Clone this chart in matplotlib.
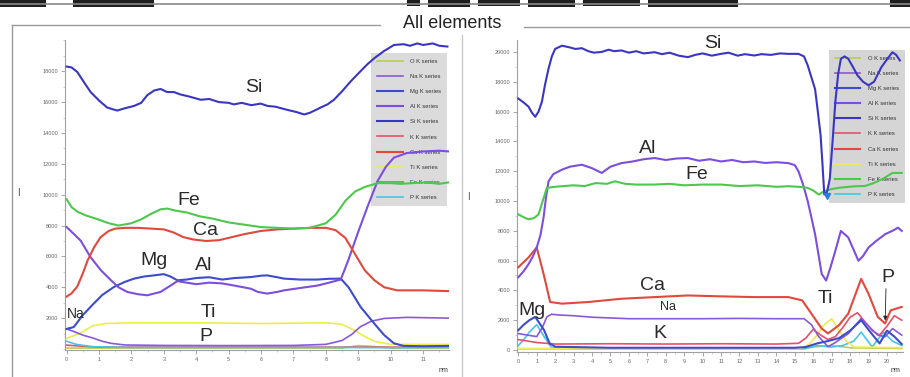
import matplotlib
matplotlib.use("Agg")
import matplotlib.pyplot as plt
from matplotlib.lines import Line2D
from matplotlib.patches import Rectangle
from matplotlib.ticker import MultipleLocator

plt.rcParams['font.family'] = ['Liberation Sans', 'DejaVu Sans']

# ---------------- legend / series ----------------
series_keys = ["O", "Na", "Mg", "Al", "Si", "K", "Ca", "Ti", "Fe", "P"]
series_names = ["O K series", "Na K series", "Mg K series", "Al K series", "Si K series",
                "K K series", "Ca K series", "Ti K series", "Fe K series", "P K series"]
series_colors = ["#b8d048", "#8a58dc", "#3c4ccc", "#7c4ee0", "#3a36c4",
                 "#e8506a", "#e2483c", "#ecec50", "#4cc84c", "#48c4e8"]

# ---------------- left panel data ----------------
left_si_x = [0, 0.15, 0.33, 0.5, 0.74, 1.0, 1.25, 1.4, 1.56, 1.8, 2.08, 2.3, 2.49, 2.7, 2.9, 3.1, 3.31,
             3.5, 3.8, 4.14, 4.4, 4.7, 5.0, 5.16, 5.4, 5.7, 5.99, 6.2, 6.45, 6.71, 6.9, 7.1, 7.33, 7.5,
             7.7, 7.84, 8.05, 8.25, 8.5, 8.77, 9.0, 9.28, 9.5, 9.79, 10.1, 10.4, 10.6, 10.82, 11.0,
             11.3, 11.5, 11.75]
left_si_y = [18300, 18250, 17950, 17400, 16650, 16100, 15650, 15550, 15450, 15600, 15750, 15950,
             16450, 16750, 16850, 16650, 16650, 16500, 16350, 16150, 16200, 16000, 15950, 15850,
             15950, 15800, 15900, 15750, 15700, 15550, 15450, 15350, 15200, 15300, 15500, 15650,
             15850, 16150, 16700, 17350, 17850, 18450, 18850, 19300, 19700, 19750, 19650, 19800,
             19700, 19800, 19650, 19600]

left_fe_x = [0, 0.15, 0.33, 0.6, 0.9, 1.3, 1.6, 2.0, 2.3, 2.6, 2.9, 3.1, 3.4, 3.7, 4.1, 4.5, 5.0,
             5.5, 6.0, 6.5, 7.0, 7.5, 8.0, 8.3, 8.6, 8.9, 9.2, 9.6, 10.0, 10.3, 10.7, 11.1, 11.5, 11.8]
left_fe_y = [9700, 9200, 8900, 8650, 8450, 8150, 8000, 8150, 8400, 8750, 9050, 9100, 8950, 8850,
             8600, 8450, 8200, 8050, 7900, 7850, 7800, 7850, 8150, 8700, 9600, 10200, 10500,
             10750, 10750, 10700, 10750, 10800, 10700, 10800]

left_ca_x = [0, 0.15, 0.33, 0.5, 0.65, 0.85, 1.05, 1.3, 1.5, 1.8, 2.2, 2.6, 3.0, 3.3, 3.6, 3.9,
             4.3, 4.7, 5.1, 5.5, 6.0, 6.5, 7.0, 7.5, 8.0, 8.3, 8.6, 8.9, 9.2, 9.5, 9.8, 10.2, 11.0, 11.8]
left_ca_y = [3400, 3600, 4050, 4900, 5750, 6600, 7250, 7650, 7800, 7850, 7850, 7800, 7750, 7550,
             7250, 7100, 7000, 7050, 7250, 7450, 7650, 7750, 7800, 7850, 7850, 7700, 7200, 6150,
             5100, 4450, 4000, 3800, 3800, 3750]

left_mg_x = [0, 0.22, 0.5, 0.84, 1.1, 1.46, 1.8, 2.08, 2.4, 2.69, 3.0, 3.2, 3.42, 3.7, 4.0, 4.4,
             4.8, 5.2, 5.68, 6.0, 6.19, 6.5, 6.71, 7.2, 7.74, 8.1, 8.46, 8.7, 9.07, 9.49, 9.8, 10.1,
             10.4, 11.0, 11.8]
left_mg_y = [1300, 1420, 2200, 2950, 3500, 4020, 4350, 4560, 4700, 4770, 4850, 4700, 4450, 4500,
             4600, 4650, 4500, 4600, 4660, 4750, 4770, 4650, 4560, 4500, 4500, 4550, 4560, 4000,
             2730, 1660, 900, 370, 200, 180, 200]

left_al_x = [0, 0.2, 0.43, 0.74, 1.05, 1.36, 1.6, 1.87, 2.2, 2.49, 2.9, 3.2, 3.42, 3.7, 4.0, 4.4,
             4.8, 5.2, 5.68, 5.9, 6.19, 6.5, 6.71, 7.2, 7.74, 8.1, 8.46, 8.7, 9.0, 9.3, 9.6, 9.85,
             10.1, 10.5, 11.0, 11.5, 11.8]
left_al_y = [7900, 7500, 7030, 5950, 5120, 4470, 4000, 3700, 3550, 3480, 3700, 4100, 4400, 4300,
             4200, 4300, 4250, 4100, 3910, 3700, 3590, 3700, 3800, 3950, 4110, 4300, 4500, 5800,
             7600, 9300, 10900, 11800, 12400, 12700, 12800, 12850, 12800]

left_na_x = [0, 0.2, 0.5, 0.84, 1.1, 1.36, 1.8, 3.0, 5.0, 7.0, 8.0, 8.5, 8.8, 9.07, 9.4, 9.8,
             10.5, 11.8]
left_na_y = [1300, 1150, 900, 690, 500, 370, 260, 230, 220, 230, 300, 550, 950, 1450, 1800, 1980,
             2050, 2000]

left_ti_x = [0, 0.4, 0.8, 1.2, 2.0, 4.0, 6.0, 8.0, 8.5, 8.9, 9.2, 9.5, 10.0, 11.8]
left_ti_y = [700, 1000, 1500, 1650, 1700, 1700, 1650, 1700, 1600, 1200, 800, 500, 300, 300]

left_p_x = [0, 0.3, 0.8, 2.0, 5.0, 8.0, 10.0, 11.8]
left_p_y = [500, 300, 150, 100, 100, 100, 80, 100]

left_o_x = [0, 8.5, 9.0, 9.5, 10.0, 11.8]
left_o_y = [60, 60, 220, 160, 60, 60]

left_k_x = [0, 0.5, 1.0, 11.8]
left_k_y = [250, 180, 120, 120]

# ---------------- right panel data ----------------
right_si_x = [0, 0.3, 0.56, 0.75, 0.92, 1.1, 1.28, 1.45, 1.64, 1.82, 2.0, 2.37, 2.8, 3.1, 3.45,
              3.8, 4.1, 4.53, 4.9, 5.2, 5.6, 6.0, 6.4, 6.8, 7.4, 7.8, 8.2, 8.7, 9.2, 9.6, 10.0,
              10.5, 11.0, 11.4, 11.9, 12.3, 12.8, 13.2, 13.7, 14.2, 14.65, 15.2, 15.5, 15.7, 15.9,
              16.1, 16.25, 16.4, 16.5, 16.6, 16.75, 16.9, 17.05, 17.2, 17.35, 17.5, 17.7, 17.9,
              18.15, 18.4, 18.7, 19.0, 19.3, 19.7, 20.0, 20.3, 20.5, 20.7]
right_si_y = [16870, 16600, 16320, 15900, 15650, 16000, 16650, 17800, 18870, 19700, 20200, 20420,
              20300, 20200, 20250, 20050, 19950, 20000, 20150, 20050, 20100, 19950, 20050, 19900,
              19980, 19850, 19950, 19750, 19650, 19800, 19900, 19750, 19870, 19950, 19750, 19850,
              19760, 19850, 19800, 19900, 19870, 19870, 19700, 19100, 18300, 17500, 16000, 14400,
              12500, 10430, 10600, 11500, 14000, 16650, 18500, 19540, 19700, 19540, 19000, 18430,
              18000, 17760, 18000, 18980, 19500, 19980, 19800, 19430]

right_al_x = [0, 0.3, 0.56, 0.8, 1.0, 1.2, 1.37, 1.5, 1.64, 1.9, 2.37, 2.8, 3.45, 4.0, 4.53, 5.0,
              5.6, 6.2, 6.8, 7.4, 8.0, 8.6, 9.2, 9.8, 10.4, 11.0, 11.6, 12.2, 12.8, 13.4, 14.0,
              14.65, 15.0, 15.2, 15.45, 15.7, 15.9, 16.1, 16.3, 16.46, 16.7, 16.95, 17.2, 17.5,
              17.9, 18.2, 18.45, 18.7, 19.0, 19.4, 19.9, 20.3, 20.6, 20.8]
right_al_y = [4880, 5300, 5770, 6300, 6880, 7700, 8880, 10200, 11320, 11800, 12100, 12300, 12430,
              12200, 11880, 12300, 12540, 12650, 12800, 12880, 12750, 12850, 12880, 12700, 12800,
              12650, 12750, 12600, 12650, 12550, 12600, 12540, 12400, 11990, 11100, 9990, 8900,
              7770, 6300, 5100, 4660, 5600, 6660, 7990, 7550, 6700, 5990, 6300, 6880, 7300, 7770,
              8000, 8210, 7990]

right_fe_x = [0, 0.3, 0.56, 0.85, 1.1, 1.3, 1.55, 2.0, 2.37, 3.0, 3.6, 4.2, 4.8, 5.25, 5.8, 6.4,
              7.4, 8.2, 9.0, 10.0, 11.0, 12.0, 13.0, 14.0, 14.65, 15.2, 15.7, 16.0, 16.3, 16.6,
              17.0, 17.5, 18.3, 18.8, 19.3, 19.8, 20.3, 20.8]
right_fe_y = [9100, 8900, 8770, 8850, 9100, 9900, 10880, 10950, 10990, 11050, 11000, 11200, 11150,
              11320, 11150, 11100, 11100, 11150, 11050, 11100, 11100, 11000, 11050, 10950, 10990,
              10950, 10880, 10700, 10430, 10660, 10800, 10900, 10990, 11000, 11210, 11500, 11880,
              11880]

right_ca_x = [0, 0.56, 1.0, 1.37, 1.73, 2.37, 3.8, 5.6, 7.4, 9.2, 11.0, 12.8, 14.65, 15.4, 15.9,
              16.46, 16.8, 17.4, 17.9, 18.6, 19.0, 19.5, 19.9, 20.2, 20.8]
right_ca_y = [5550, 6220, 6880, 5110, 3220, 3110, 3220, 3440, 3550, 3660, 3600, 3550, 3550, 3330,
              2440, 1440, 1110, 1670, 2440, 4770, 3770, 2220, 1780, 2660, 2890]

right_k_x = [0, 0.5, 1.0, 1.5, 2.0, 5.0, 8.0, 11.0, 14.0, 15.2, 15.6, 16.0, 16.4, 16.8, 17.2,
             17.6, 18.0, 18.4, 18.8, 19.2, 19.6, 20.0, 20.4, 20.8]
right_k_y = [700, 600, 500, 450, 400, 420, 400, 420, 400, 450, 800, 1400, 1000, 700, 900, 1500,
             2200, 2500, 1900, 1300, 1000, 1600, 2300, 2000]

right_na_x = [0, 0.5, 1.0, 1.3, 1.55, 1.8, 2.2, 3.0, 4.0, 5.0, 6.0, 8.0, 10.0, 12.0, 14.0, 15.5,
              15.9, 16.3, 16.8, 17.2, 17.9, 18.6, 19.0, 19.5, 19.9, 20.3, 20.8]
right_na_y = [1100, 1000, 900, 1500, 2220, 2400, 2350, 2300, 2200, 2150, 2100, 2100, 2100, 2120,
              2100, 2100, 1700, 890, 220, 500, 1100, 2110, 1600, 1000, 890, 1440, 1000]

right_mg_x = [0, 0.3, 0.6, 0.92, 1.2, 1.4, 1.7, 2.0, 5.0, 10.0, 15.0, 15.6, 16.2, 16.8, 17.4,
              18.0, 18.6, 19.1, 19.6, 20.0, 20.4, 20.8]
right_mg_y = [1330, 1700, 2000, 2220, 1700, 1330, 440, 220, 150, 150, 150, 200, 440, 600, 800,
              1300, 2000, 1200, 440, 1300, 900, 400]

right_ti_x = [0, 15.3, 15.8, 16.2, 16.6, 17.0, 17.4, 17.8, 18.2, 20.8]
right_ti_y = [100, 100, 400, 1000, 1700, 2100, 1300, 600, 200, 150]

right_p_x = [0, 0.3, 0.6, 1.0, 1.4, 1.8, 3.0, 15.6, 16.2, 17.0, 17.6, 18.2, 18.6, 19.2, 19.8,
             20.3, 20.8]
right_p_y = [300, 700, 1200, 1700, 900, 150, 100, 100, 300, 200, 300, 600, 1200, 200, 1200, 600,
             300]

right_o_x = [0, 15.5, 16.0, 17.0, 18.0, 20.8]
right_o_y = [80, 80, 200, 300, 150, 100]

# element text labels: (name, x, y, fontsize)
left_labels = [("Si", 5.77, 16950, 14), ("Fe", 3.77, 9650, 14), ("Ca", 4.29, 7650, 14),
               ("Mg", 2.69, 5750, 14), ("Al", 4.23, 5420, 14), ("Na", 0.28, 2300, 10),
               ("Ti", 4.38, 2390, 14), ("P", 4.29, 780, 14)]
right_labels = [("Si", 10.57, 20550, 14), ("Al", 6.99, 13550, 14), ("Fe", 9.7, 11800, 14),
                ("Ca", 7.26, 4350, 14), ("Na", 8.13, 2870, 9), ("Mg", 0.76, 2680, 14),
                ("K", 7.7, 1130, 14), ("Ti", 16.64, 3470, 14), ("P", 20.05, 4870, 14)]

left_yticks = [2000, 4000, 6000, 8000, 10000, 12000, 14000, 16000, 18000]
right_yticks = [0, 2000, 4000, 6000, 8000, 10000, 12000, 14000, 16000, 18000, 20000]
left_xticks = list(range(0, 12))
right_xticks = list(range(0, 21))

left_series = {
    "O": (left_o_x, left_o_y), "K": (left_k_x, left_k_y), "P": (left_p_x, left_p_y),
    "Ti": (left_ti_x, left_ti_y), "Na": (left_na_x, left_na_y), "Mg": (left_mg_x, left_mg_y),
    "Al": (left_al_x, left_al_y), "Ca": (left_ca_x, left_ca_y), "Fe": (left_fe_x, left_fe_y),
    "Si": (left_si_x, left_si_y),
}
right_series = {
    "O": (right_o_x, right_o_y), "P": (right_p_x, right_p_y), "Ti": (right_ti_x, right_ti_y),
    "K": (right_k_x, right_k_y), "Na": (right_na_x, right_na_y), "Mg": (right_mg_x, right_mg_y),
    "Ca": (right_ca_x, right_ca_y), "Al": (right_al_x, right_al_y), "Fe": (right_fe_x, right_fe_y),
    "Si": (right_si_x, right_si_y),
}

W, H = 910, 377
fig = plt.figure(figsize=(W / 100, H / 100), dpi=100)


def fx(px):
    return px / W


def fy(py):
    return 1 - py / H


def style_axes(ax, xticks, yticks, ylabels):
    for s in ["top", "right"]:
        ax.spines[s].set_visible(False)
    for s in ["left", "bottom"]:
        ax.spines[s].set_color("#a0a0a0")
        ax.spines[s].set_linewidth(0.8)
    ax.set_xticks(xticks)
    ax.set_xticklabels([str(t) for t in xticks])
    ax.set_yticks(yticks)
    ax.set_yticklabels(ylabels)
    ax.yaxis.set_minor_locator(MultipleLocator(1000))
    ax.xaxis.set_minor_locator(MultipleLocator(0.5))
    ax.tick_params(which="major", length=3, width=0.6, color="#999999", labelsize=4,
                   labelcolor="#666666", pad=2)
    ax.tick_params(which="minor", length=1.5, width=0.5, color="#bbbbbb")


def draw_panel(ax, series, labels):
    color_of = dict(zip(series_keys, series_colors))
    name_of = dict(zip(series_keys, series_names))
    handles = {}
    for key, (xs, ys) in series.items():
        lw = 1.5 if key in ("Si", "Al", "Mg", "Fe", "Ca") else 1.2
        h, = ax.plot(xs, ys, color=color_of[key], lw=lw, zorder=3, label=name_of[key])
        handles[key] = h
    for name, x, y, fs in labels:
        ax.text(x, y, name, fontsize=fs, color="#2a2a2a", ha="center", va="center",
                zorder=6, clip_on=False)
    ordered = [handles[k] for k in series_keys]
    return ordered


legend_kw = dict(loc="upper right", fontsize=4.2, labelspacing=1.72, handlelength=4.4,
                 handletextpad=1.3, borderpad=1.0, borderaxespad=0.0, frameon=True,
                 edgecolor="none", framealpha=0.75, fancybox=False, labelcolor="#333333")

# left axes
axL = fig.add_axes([fx(65), fy(350), fx(449) - fx(65), fy(40) - fy(350)])
hL = draw_panel(axL, left_series, left_labels)
axL.set_xlim(-0.05, 11.80)
axL.set_ylim(-65, 20023)
style_axes(axL, left_xticks, left_yticks, [str(t) for t in left_yticks])
legL = axL.legend(handles=hL, labels=series_names, bbox_to_anchor=(0.995, 0.958),
                  facecolor="#cfcfcf", **legend_kw)
legL.set_zorder(2)

# right axes
axR = fig.add_axes([fx(517), fy(352), fx(903) - fx(517), fy(40) - fy(352)])
hR = draw_panel(axR, right_series, right_labels)
axR.set_xlim(-0.07, 20.87)
axR.set_ylim(-134, 20800)
style_axes(axR, right_xticks, right_yticks, [str(t) for t in right_yticks])
legR = axR.legend(handles=hR, labels=series_names, bbox_to_anchor=(1.005, 0.968),
                  facecolor="#c8c8c8", **legend_kw)
legR.set_zorder(2)

# P annotation arrow + Si marker on the right
axR.annotate("", xy=(19.9, 1800), xytext=(19.95, 4300),
             arrowprops=dict(arrowstyle="-|>", color="#222222", lw=0.6, mutation_scale=6),
             zorder=7)
axR.plot([16.75], [10300], marker="v", color="#2a7be0", ms=4, zorder=7)

# ---------------- frame / screenshot decoration ----------------
frame_col = "#9a9a9a"
fig.add_artist(Line2D([fx(12), fx(380)], [fy(25), fy(25)], color=frame_col, lw=1.0))
fig.add_artist(Line2D([fx(524), fx(910)], [fy(27), fy(27)], color=frame_col, lw=1.0))
fig.add_artist(Line2D([fx(12), fx(12)], [fy(25), fy(377)], color=frame_col, lw=1.0))
fig.add_artist(Line2D([fx(462), fx(462)], [fy(35), fy(377)], color="#c8c8c8", lw=1.0))
fig.text(fx(452), fy(23), "All elements", fontsize=13, ha="center", va="center", color="#222222")

# top dark screenshot strip
fig.add_artist(Line2D([0, 1], [fy(4), fy(4)], color="#8a8a8a", lw=1.2))
for x0, x1, h in [(0, 46, 7), (73, 154, 7), (407, 420, 6), (428, 470, 7), (478, 520, 6),
                  (528, 575, 7), (583, 640, 6), (648, 738, 7), (890, 910, 7)]:
    fig.add_artist(Rectangle((fx(x0), fy(h)), fx(x1) - fx(x0), h / H, color="#1e1e1e", lw=0))

# small y-axis labels and x-axis units
fig.text(fx(18), fy(193), "I", fontsize=7, ha="center", va="center", color="#555555")
fig.text(fx(468), fy(197), "I", fontsize=7, ha="center", va="center", color="#555555")
fig.text(fx(443), fy(371), "nm", fontsize=5, ha="center", va="center", color="#333333")
fig.text(fx(895), fy(371), "nm", fontsize=5, ha="center", va="center", color="#333333")

fig.savefig("out.png", dpi=100, facecolor="white")
